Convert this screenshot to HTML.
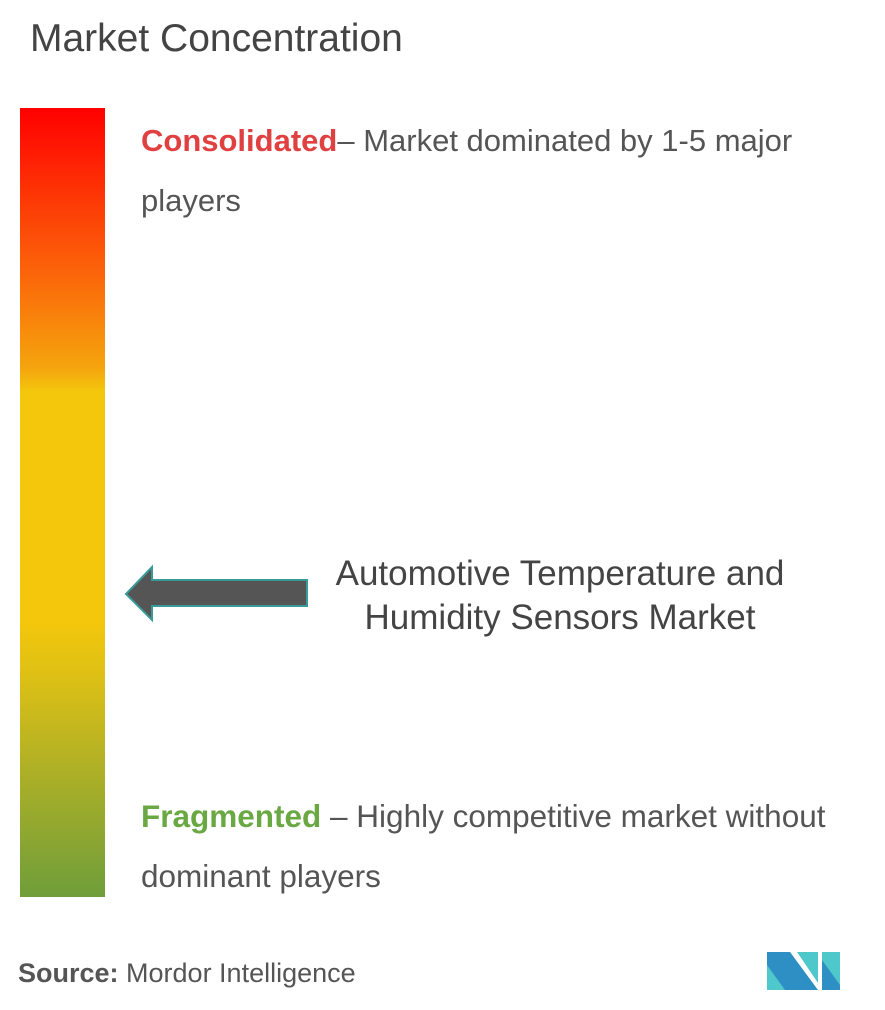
<!DOCTYPE html>
<html><head><meta charset="utf-8"><style>
body{margin:0;width:885px;height:1010px;background:#fff;position:relative;font-family:"Liberation Sans",sans-serif;color:#555;overflow:hidden}
.t{position:absolute;white-space:nowrap}
</style></head><body>
<div class="t" style="left:30px;top:17px;font-size:39px;color:#444">Market Concentration</div>
<div style="position:absolute;left:20px;top:108px;width:85px;height:789px;background:linear-gradient(to bottom,#ff0000 0%,#fb6a0a 22%,#f5a50e 33%,#f4c70c 36%,#f4c70c 65%,#ddc015 72%,#b2b125 83%,#6f9e3a 100%)"></div>
<div class="t" style="left:141px;top:123px;font-size:31px"><span style="color:#e04040;font-weight:bold">Consolidated</span>– Market dominated by 1-5 major</div>
<div class="t" style="left:141px;top:183px;font-size:31px">players</div>
<div class="t" style="left:141px;top:798px;font-size:31.5px"><span style="color:#6aa843;font-weight:bold">Fragmented</span> – Highly competitive market without</div>
<div class="t" style="left:141px;top:858px;font-size:31.5px">dominant players</div>
<div class="t" style="left:300px;top:552px;width:520px;text-align:center;font-size:35px;line-height:44px;color:#444">Automotive Temperature and<br>Humidity Sensors Market</div>
<svg style="position:absolute;left:0;top:0" width="885" height="1010">
<polygon points="126,594 152,567 152,580 307,580 307,606 152,606 152,620" fill="#555" stroke="#3a9a9a" stroke-width="2"/>
<polygon points="767,952 790,952 818,990 767,990" fill="#2e8fc4"/>
<polygon points="767,965 767,990 785,990" fill="#4fc8cc"/>
<polygon points="797,952 818,952 818,983" fill="#4fc8cc"/>
<polygon points="822,952 840,952 840,990 822,990" fill="#4fc8cc"/>
<polygon points="822,960 840,985 840,990 822,990" fill="#2e8fc4"/>
</svg>
<div class="t" style="left:18px;top:958px;font-size:27px;color:#555"><b>Source:</b> Mordor Intelligence</div>
</body></html>
